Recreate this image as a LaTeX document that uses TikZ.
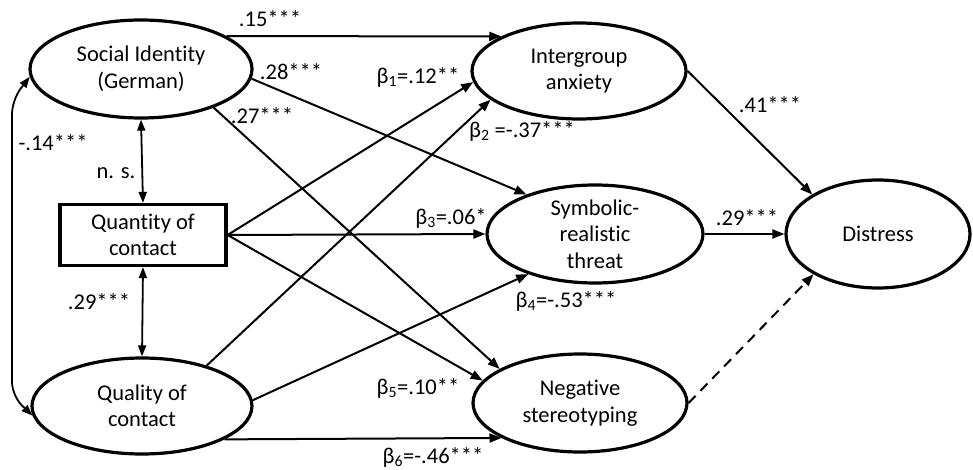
\documentclass[tikz,border=0pt]{standalone}
\usepackage{fontspec}
\setmainfont{Carlito}[Ligatures=NoCommon]
\usetikzlibrary{shapes.geometric,arrows.meta}

\begin{document}
\begin{tikzpicture}
				[x=1pt,y=-1pt,font=\fontsize{22.5}{26.5}\selectfont,
				latent/.style={ellipse,draw,line width=3.2pt,align=center,inner sep=0pt},
				observed/.style={rectangle,draw,line width=3.2pt,align=center,minimum width=166pt,minimum height=61pt},
				effect/.style={line width=2pt,-{Triangle[length=12pt,width=9pt]}},
				cov/.style={line width=1.8pt,{Triangle[length=11pt,width=8pt]}-{Triangle[length=11pt,width=8pt]}},
				coef/.style={inner sep=0pt}]
				\useasboundingbox (0,0) rectangle (973,470);
				\node[latent,minimum width=222pt,minimum height=98pt] (si) at (141,69) {Social Identity\\(German)};
				\node[observed] (qty) at (143,235) {Quantity of\\contact};
				\node[latent,minimum width=220pt,minimum height=96pt] (qual) at (142,406) {Quality of\\contact};
				\node[latent,minimum width=214pt,minimum height=96pt] (ia) at (579,71) {Intergroup\\anxiety};
				\node[latent,minimum width=216pt,minimum height=98pt] (srt) at (595,234) {Symbolic-\\realistic\\threat};
				\node[latent,minimum width=214pt,minimum height=98pt] (ns) at (580,403) {Negative\\stereotyping};
				\node[latent,minimum width=184pt,minimum height=108pt] (dis) at (878,234) {Distress};
				
				\foreach \from/\to in {si.21/ia.156,si.-5/srt.150,si.-28/ns.157,
					qty.east/ia.186,qty.east/srt.west,qty.east/ns.167,
					qual.32/ia.198,qual.3/srt.211,qual.-22/ns.204,
					ia.east/dis.149,srt.east/dis.west}
				\draw[effect] (\from) -- (\to);
				\draw[effect,dash pattern=on 10pt off 7pt] (ns.east) -- (dis.212);
				
				\draw[cov] (si.south) -- (qty.north);
				\draw[cov] (qty.south) -- (qual.north);
				\coordinate (lt) at (12,100);
				\coordinate (lb) at (12,396);
				\draw[cov,rounded corners=14pt] (si.184) -- (lt) -- (lb) -- (qual.185);
				
				\node[coef] (c1) at (270,19) {.15***};
				\node[coef] (c2) at (291,72) {.28***};
				\node[coef] (c3) at (262,116) {.27***};
				\node[coef] (c4) at (53,143) {-.14***};
				\node[coef] (c5) at (116,173) {n. s.};
				\node[coef] (c6) at (99,302) {.29***};
				\node[coef] (b1) at (418,77) {β\textsubscript{1}=.12**};
				\node[coef] (b2) at (522,131) {β\textsubscript{2} =-.37***};
				\node[coef] (b3) at (451,218) {β\textsubscript{3}=.06*};
				\node[coef] (b4) at (566,301) {β\textsubscript{4}=-.53***};
				\node[coef] (b5) at (418,388) {β\textsubscript{5}=.10**};
				\node[coef] (b6) at (433,457) {β\textsubscript{6}=-.46***};
				\node[coef] (c7) at (770,105) {.41***};
				\node[coef] (c8) at (747,218) {.29***};
				\end{tikzpicture}
\end{document}
